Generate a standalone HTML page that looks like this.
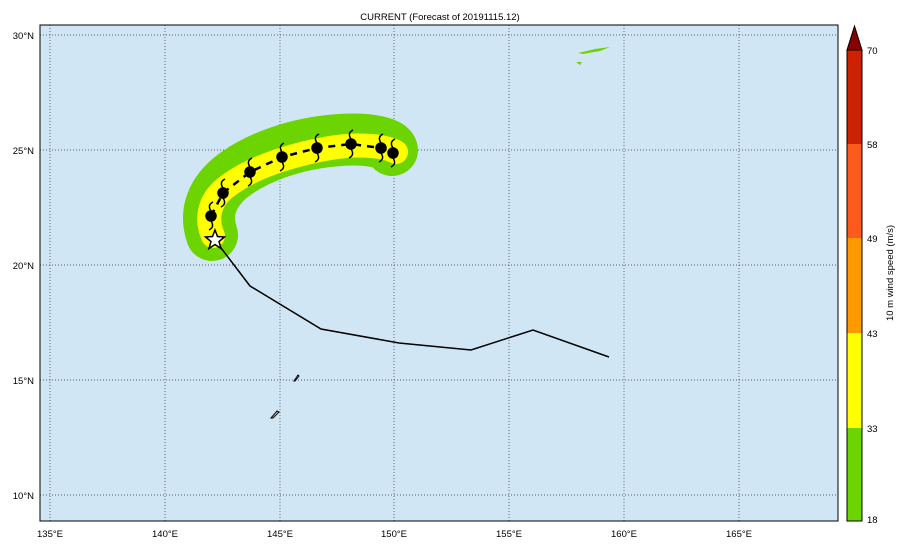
<!DOCTYPE html>
<html><head><style>body{margin:0;background:#fff}svg{display:block}text{font-family:"Liberation Sans",sans-serif;font-size:9.5px}</style></head><body>
<svg width="906" height="548" xmlns="http://www.w3.org/2000/svg">
<rect width="906" height="548" fill="#fff"/>
<text x="440" y="20" text-anchor="middle" font-size="11">CURRENT (Forecast of 20191115.12)</text>
<rect x="40" y="25" width="798" height="496" fill="#d0e6f5"/>
<g stroke="#334" stroke-width="0.7" stroke-dasharray="1,2">
<line x1="50" y1="25" x2="50" y2="521"/><line x1="165" y1="25" x2="165" y2="521"/><line x1="280" y1="25" x2="280" y2="521"/><line x1="394" y1="25" x2="394" y2="521"/><line x1="509" y1="25" x2="509" y2="521"/><line x1="624" y1="25" x2="624" y2="521"/><line x1="739" y1="25" x2="739" y2="521"/>
<line x1="40" y1="35" x2="838" y2="35"/><line x1="40" y1="150" x2="838" y2="150"/><line x1="40" y1="265" x2="838" y2="265"/><line x1="40" y1="380" x2="838" y2="380"/><line x1="40" y1="495" x2="838" y2="495"/>
</g>
<path d="M212,235 C205,215 210,195 230,178 C255,158 295,143 340,140 C370,138 390,143 392,150" fill="none" stroke="#6cd400" stroke-width="52" stroke-linecap="round" stroke-linejoin="round"/>
<path d="M213,236 C205,218 210,200 225,188 C250,168 290,155 330,148 C360,143 385,146 396,152" fill="none" stroke="#ffff00" stroke-width="24" stroke-linecap="round"/>
<path d="M578,53 L595,49 L610,47 L600,51 L583,54Z M576,62 L582,62 L580,65Z" fill="#6cd400"/>
<path d="M294,381 L298,375 L299,376 L295,381Z M271,418 L277,411 L279,412 L273,418Z" fill="none" stroke="#000" stroke-width="1"/>
<polyline points="215,240 250,286 321,329 399,343 471,350 533,330 609,357" fill="none" stroke="#000" stroke-width="1.5"/>
<polyline points="211,216 223,193 250,172 282,157 317,148 351,144 381,148 393,153" fill="none" stroke="#000" stroke-width="2.5" stroke-dasharray="7,6"/>
<g fill="#000" stroke="#000" stroke-width="1.5">
<g><circle cx="211" cy="216" r="5"/><path d="M211,211 q-4,-6 2,-9 M211,221 q4,6 -2,9" fill="none"/></g>
<g><circle cx="223" cy="193" r="5"/><path d="M223,188 q-4,-6 2,-9 M223,198 q4,6 -2,9" fill="none"/></g>
<g><circle cx="250" cy="172" r="5"/><path d="M250,167 q-4,-6 2,-9 M250,177 q4,6 -2,9" fill="none"/></g>
<g><circle cx="282" cy="157" r="5"/><path d="M282,152 q-4,-6 2,-9 M282,162 q4,6 -2,9" fill="none"/></g>
<g><circle cx="317" cy="148" r="5"/><path d="M317,143 q-4,-6 2,-9 M317,153 q4,6 -2,9" fill="none"/></g>
<g><circle cx="351" cy="144" r="5"/><path d="M351,139 q-4,-6 2,-9 M351,149 q4,6 -2,9" fill="none"/></g>
<g><circle cx="381" cy="148" r="5"/><path d="M381,143 q-4,-6 2,-9 M381,153 q4,6 -2,9" fill="none"/></g>
<g><circle cx="393" cy="153" r="5"/><path d="M393,148 q-4,-6 2,-9 M393,158 q4,6 -2,9" fill="none"/></g>
</g>
<polygon points="215,230 217.5,236.5 224.5,237 219,241.5 221,248.5 215,244.5 209,248.5 211,241.5 205.5,237 212.5,236.5" fill="#fff" stroke="#000" stroke-width="1.5"/>
<rect x="40" y="25" width="798" height="496" fill="none" stroke="#000" stroke-width="1"/>
<g text-anchor="middle">
<text x="50" y="537">135°E</text><text x="165" y="537">140°E</text><text x="280" y="537">145°E</text><text x="394" y="537">150°E</text><text x="509" y="537">155°E</text><text x="624" y="537">160°E</text><text x="739" y="537">165°E</text>
</g>
<g text-anchor="end">
<text x="34" y="39">30°N</text><text x="34" y="154">25°N</text><text x="34" y="269">20°N</text><text x="34" y="384">15°N</text><text x="34" y="499">10°N</text>
</g>
<rect x="847" y="428" width="15" height="93" fill="#6cd400"/>
<rect x="847" y="333" width="15" height="95" fill="#ffff00"/>
<rect x="847" y="238" width="15" height="95" fill="#ff9900"/>
<rect x="847" y="144" width="15" height="94" fill="#ff5a1e"/>
<rect x="847" y="50" width="15" height="94" fill="#cc2200"/>
<polygon points="847,50 862,50 854.5,26" fill="#880000" stroke="#000" stroke-width="1"/>
<rect x="847" y="50" width="15" height="471" fill="none" stroke="#000" stroke-width="1"/>
<g font-size="9.5">
<text x="867" y="523">18</text><text x="867" y="432">33</text><text x="867" y="337">43</text><text x="867" y="242">49</text><text x="867" y="148">58</text><text x="867" y="54">70</text>
</g>
<text transform="translate(893,273) rotate(-90)" text-anchor="middle">10 m wind speed (m/s)</text>
</svg>
</body></html>
